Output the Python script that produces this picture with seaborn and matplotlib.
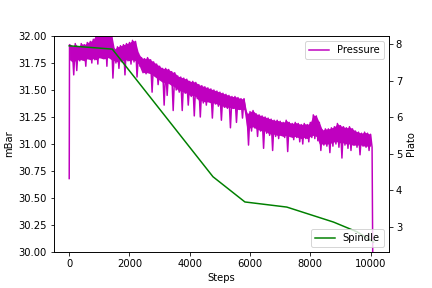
import numpy as np
import matplotlib
matplotlib.use('Agg')
import matplotlib.pyplot as plt
import seaborn as sns

# Pressure band, one pair every 100 steps:
# upper edge at step 100*i, lower edge (with the dips) at step 100*i + 50
pressure_hi = [31.92, 31.90, 31.93, 31.90, 31.93, 31.92, 31.94, 31.95, 31.97, 32.02,
               32.03, 32.01, 32.04, 32.02, 32.03, 31.88, 31.90, 31.91, 31.92, 31.93,
               31.94, 31.96, 31.95, 31.84, 31.80, 31.79, 31.80, 31.78, 31.76, 31.74,
               31.72, 31.70, 31.70, 31.69, 31.67, 31.66, 31.63, 31.62, 31.61, 31.60,
               31.58, 31.58, 31.57, 31.55, 31.54, 31.53, 31.52, 31.51, 31.50, 31.49,
               31.48, 31.47, 31.46, 31.45, 31.44, 31.44, 31.43, 31.42, 31.42, 31.28,
               31.30, 31.31, 31.28, 31.27, 31.26, 31.25, 31.24, 31.23, 31.22, 31.22,
               31.21, 31.20, 31.22, 31.20, 31.19, 31.20, 31.19, 31.18, 31.19, 31.18,
               31.20, 31.27, 31.26, 31.20, 31.13, 31.14, 31.14, 31.15, 31.16, 31.19,
               31.17, 31.16, 31.15, 31.16, 31.14, 31.12, 31.11, 31.10, 31.11, 31.10,
               31.09]
pressure_lo = [30.68, 31.64, 31.68, 31.77, 31.78, 31.72, 31.79, 31.75, 31.78, 31.74,
               31.80, 31.79, 31.72, 31.80, 31.61, 31.75, 31.70, 31.76, 31.64, 31.77,
               31.74, 31.76, 31.62, 31.72, 31.66, 31.65, 31.66, 31.48, 31.64, 31.55,
               31.60, 31.36, 31.45, 31.56, 31.31, 31.50, 31.48, 31.31, 31.47, 31.36,
               31.44, 31.26, 31.42, 31.25, 31.38, 31.36, 31.40, 31.24, 31.37, 31.35,
               31.22, 31.34, 31.33, 31.15, 31.33, 31.20, 31.32, 31.24, 31.31, 30.99,
               31.12, 31.15, 31.07, 31.12, 30.96, 31.10, 31.08, 30.94, 31.07, 31.05,
               31.08, 31.06, 30.93, 31.07, 31.04, 31.06, 31.02, 31.00, 31.05, 31.02,
               31.06, 31.05, 31.03, 30.94, 30.99, 30.98, 30.92, 30.98, 31.00, 30.97,
               30.87, 30.99, 30.96, 30.94, 30.99, 30.97, 30.90, 30.98, 30.97, 30.94,
               30.97]
# bottom edge of the dense band (without the dips), same 100-step grid
pressure_base = [31.78, 31.76, 31.77, 31.78, 31.78, 31.77, 31.79, 31.78, 31.79, 31.78,
                 31.80, 31.79, 31.79, 31.80, 31.78, 31.77, 31.76, 31.77, 31.77, 31.78,
                 31.77, 31.78, 31.77, 31.74, 31.67, 31.66, 31.66, 31.65, 31.63, 31.61,
                 31.59, 31.57, 31.57, 31.56, 31.54, 31.53, 31.50, 31.49, 31.48, 31.47,
                 31.45, 31.45, 31.44, 31.40, 31.40, 31.39, 31.39, 31.38, 31.38, 31.37,
                 31.36, 31.35, 31.34, 31.34, 31.33, 31.33, 31.32, 31.32, 31.32, 31.13,
                 31.15, 31.16, 31.14, 31.13, 31.12, 31.12, 31.10, 31.09, 31.09, 31.08,
                 31.08, 31.07, 31.08, 31.07, 31.06, 31.07, 31.06, 31.05, 31.06, 31.05,
                 31.07, 31.08, 31.07, 31.00, 31.00, 31.00, 31.00, 31.01, 31.02, 31.02,
                 31.01, 31.01, 31.00, 31.00, 30.99, 30.99, 30.99, 30.99, 30.98, 30.98,
                 30.98]
pressure_end_step = 10080
pressure_end = 29.6

# Spindle readings (Plato)
spindle_steps = [0, 1430, 4770, 5830, 7220, 8770, 9560, 10100]
spindle_plato = [7.95, 7.86, 4.37, 3.68, 3.54, 3.13, 2.86, 2.58]

# interleave the upper and lower edges into one series
steps = []
pressure = []
for i, (hi, lo) in enumerate(zip(pressure_hi, pressure_lo)):
    steps += [100 * i, 100 * i + 50]
    pressure += [hi, lo]
steps.append(pressure_end_step)
pressure.append(pressure_end)
# the first reading is the low spike at step 0
steps[0], steps[1] = 0, 10
pressure[0], pressure[1] = pressure_lo[0], pressure_hi[0]

band_steps = np.arange(len(pressure_hi)) * 100
band_steps[0] = 10

fig, ax1 = plt.subplots(figsize=(6, 4), dpi=72)
fig.subplots_adjust(left=0.125, right=0.9, top=0.875, bottom=0.125)

ax1.fill_between(band_steps, pressure_base, pressure_hi, color='m', linewidth=0)
sns.lineplot(x=steps, y=pressure, ax=ax1, color='m', label='Pressure',
             estimator=None, sort=False)
ax1.set_ylim(30, 32)
ax1.set_xlabel('Steps')
ax1.set_ylabel('mBar')
ax1.legend(loc='upper right')

ax2 = ax1.twinx()
sns.lineplot(x=spindle_steps, y=spindle_plato, ax=ax2, color='g', label='Spindle',
             estimator=None)
ax2.set_ylabel('Plato')
ax2.legend(loc='lower right')

plt.savefig('out.png', dpi=72)
